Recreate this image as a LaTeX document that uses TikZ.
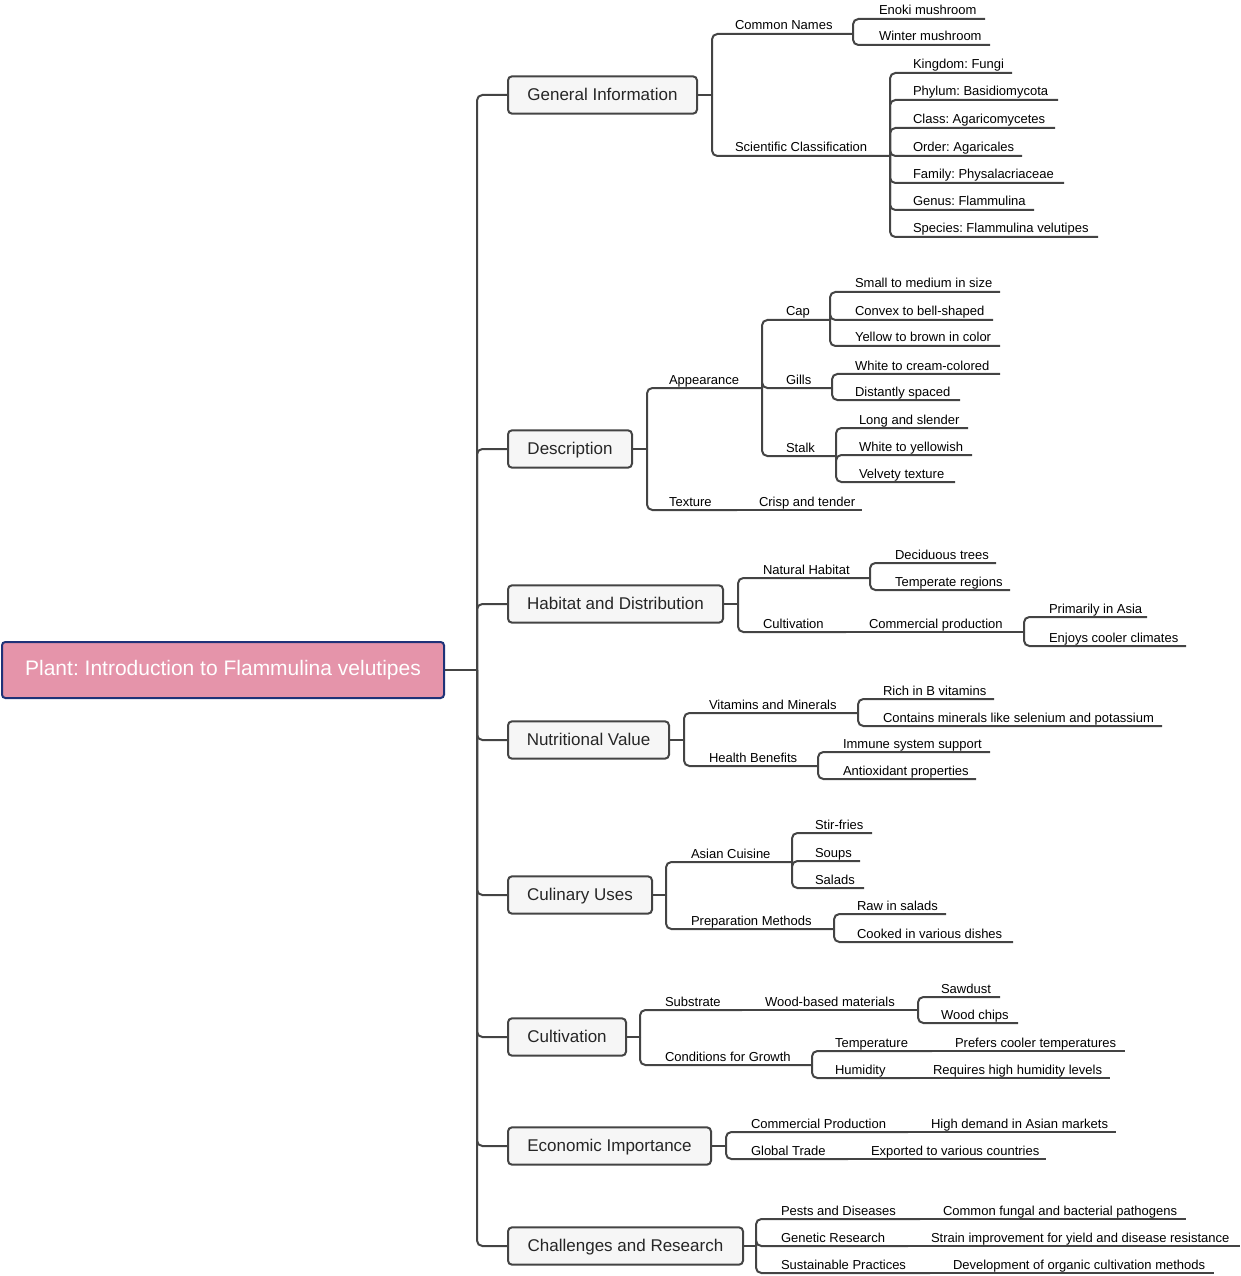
\documentclass[tikz,border=0pt]{standalone}
\usepackage{fontspec}
\setmainfont{Liberation Sans}
\frenchspacing
\definecolor{linkgray}{RGB}{68,68,68}
\definecolor{rootpink}{RGB}{229,148,170}
\definecolor{rootblue}{RGB}{30,50,120}
\definecolor{boxfill}{RGB}{246,246,246}
\tikzset{every picture/.style={line width=1.5pt}}
\tikzset{
  link/.style={draw=linkgray, rounded corners=4pt},
  lbl/.style={anchor=base west, inner sep=0pt, font=\fontsize{9.75}{11}\selectfont},
  topic/.style={draw=linkgray, fill=boxfill, rounded corners=3pt, inner sep=0pt, minimum height=28pt, text height=0.9em, text depth=0.1em, text=black!85, font=\fontsize{12.75}{15}\selectfont},
  rootbox/.style={draw=rootblue, fill=rootpink, rounded corners=2.5pt, inner sep=0pt, minimum height=42pt, text height=0.9em, text depth=0.1em, text=white, font=\fontsize{15.75}{18}\selectfont}
}

\begin{document}
\begin{tikzpicture}[x=0.75pt,y=0.75pt,yscale=-1,xscale=1]
\useasboundingbox (0,0) rectangle (1240,1276);

%Root
\node [rootbox, minimum width=331.5pt] (root) at (223,670) {Plant: Introduction to Flammulina velutipes};
\coordinate (trunk) at (477,670);

%Topics
\node [topic, minimum width=141.75pt] (gi) at (602.5,95) {General Information};
\node [topic, minimum width=93pt] (de) at (570,449) {Description};
\node [topic, minimum width=161.25pt] (hd) at (615.5,604) {Habitat and Distribution};
\node [topic, minimum width=120.75pt] (nv) at (588.5,740) {Nutritional Value};
\node [topic, minimum width=108pt] (cu) at (580,895) {Culinary Uses};
\node [topic, minimum width=88.5pt] (cv) at (567,1037) {Cultivation};
\node [topic, minimum width=152.25pt] (ei) at (609.5,1146) {Economic Importance};
\node [topic, minimum width=176.25pt] (cr) at (625.5,1246) {Challenges and Research};

% Connection
\draw [link] (root.east) -- (trunk);
\foreach \t in {gi,de,hd,nv,cu,cv,ei,cr}
  \draw [link] (trunk) |- (\t.west);

%General Information
\coordinate (gi-b) at (712,95);
\draw [link] (gi.east) -- (gi-b);
\node [lbl] (cn) at (734,30) {Common Names}; \coordinate (cn-e) at (853,34);
\node [lbl] (en) at (878,15) {Enoki mushroom}; \coordinate (en-e) at (985,19);
\node [lbl] (wm) at (878,41) {Winter mushroom}; \coordinate (wm-e) at (990,45);
\node [lbl] (sc) at (734,152) {Scientific Classification}; \coordinate (sc-e) at (890,156);
\node [lbl] (kf) at (912,69) {Kingdom: Fungi}; \coordinate (kf-e) at (1012,73);
\node [lbl] (pb) at (912,96) {Phylum: Basidiomycota}; \coordinate (pb-e) at (1058,100);
\node [lbl] (ca) at (912,124) {Class: Agaricomycetes}; \coordinate (ca-e) at (1055,128);
\node [lbl] (oa) at (912,152) {Order: Agaricales}; \coordinate (oa-e) at (1022,156);
\node [lbl] (fp) at (912,179) {Family: Physalacriaceae}; \coordinate (fp-e) at (1064,183);
\node [lbl] (gf) at (912,206) {Genus: Flammulina}; \coordinate (gf-e) at (1034,210);
\node [lbl] (sf) at (912,233) {Species: Flammulina velutipes}; \coordinate (sf-e) at (1098,237);
% Connection
\draw [link] (gi-b) |- (cn-e); \draw [link] (gi-b) |- (sc-e);
\draw [link] (cn-e) |- (en-e); \draw [link] (cn-e) |- (wm-e);
\foreach \c in {kf,pb,ca,oa,fp,gf,sf}
  \draw [link] (sc-e) |- (\c-e);

%Description
\coordinate (de-b) at (647,449);
\draw [link] (de.east) -- (de-b);
\node [lbl] (ap) at (668,384) {Appearance}; \coordinate (ap-e) at (762,388);
\node [lbl] (cp) at (785,316) {Cap}; \coordinate (cp-e) at (830,320);
\node [lbl] (sm) at (854,288) {Small to medium in size}; \coordinate (sm-e) at (1000,292);
\node [lbl] (cx) at (854,316) {Convex to bell-shaped}; \coordinate (cx-e) at (993,320);
\node [lbl] (yb) at (854,342) {Yellow to brown in color}; \coordinate (yb-e) at (1000,346);
\node [lbl] (gl) at (785,384) {Gills}; \coordinate (gl-e) at (832,388);
\node [lbl] (wc) at (854,370) {White to cream-colored}; \coordinate (wc-e) at (1000,374);
\node [lbl] (ds) at (854,396) {Distantly spaced}; \coordinate (ds-e) at (960,400);
\node [lbl] (st) at (785,452) {Stalk}; \coordinate (st-e) at (836,456);
\node [lbl] (ls) at (858,424) {Long and slender}; \coordinate (ls-e) at (968,428);
\node [lbl] (wy) at (858,451) {White to yellowish}; \coordinate (wy-e) at (972,455);
\node [lbl] (vt) at (858,478) {Velvety texture}; \coordinate (vt-e) at (955,482);
\node [lbl] (tx) at (668,506) {Texture}; \coordinate (tx-e) at (737,510);
\node [lbl] (ct) at (758,506) {Crisp and tender}; \coordinate (ct-e) at (862,510);
% Connection
\draw [link] (de-b) |- (ap-e); \draw [link] (de-b) |- (tx-e);
\draw [link] (ap-e) |- (cp-e); \draw [link] (ap-e) |- (gl-e); \draw [link] (ap-e) |- (st-e);
\draw [link] (cp-e) |- (sm-e); \draw [link] (cp-e) |- (cx-e); \draw [link] (cp-e) |- (yb-e);
\draw [link] (gl-e) |- (wc-e); \draw [link] (gl-e) |- (ds-e);
\draw [link] (st-e) |- (ls-e); \draw [link] (st-e) |- (wy-e); \draw [link] (st-e) |- (vt-e);
\draw [link] (tx-e) -- (ct-e);

%Habitat and Distribution
\coordinate (hd-b) at (738,604);
\draw [link] (hd.east) -- (hd-b);
\node [lbl] (nh) at (762,574) {Natural Habitat}; \coordinate (nh-e) at (870,578);
\node [lbl] (dt) at (894,559) {Deciduous trees}; \coordinate (dt-e) at (996,563);
\node [lbl] (tr) at (894,586) {Temperate regions}; \coordinate (tr-e) at (1010,590);
\node [lbl] (cl) at (762,628) {Cultivation}; \coordinate (cl-e) at (846,632);
\node [lbl] (cpr) at (868,628) {Commercial production}; \coordinate (cpr-e) at (1024,632);
\node [lbl] (pa) at (1048,613) {Primarily in Asia}; \coordinate (pa-e) at (1147,617);
\node [lbl] (ec) at (1048,642) {Enjoys cooler climates}; \coordinate (ec-e) at (1186,646);
% Connection
\draw [link] (hd-b) |- (nh-e); \draw [link] (hd-b) |- (cl-e);
\draw [link] (nh-e) |- (dt-e); \draw [link] (nh-e) |- (tr-e);
\draw [link] (cl-e) -- (cpr-e);
\draw [link] (cpr-e) |- (pa-e); \draw [link] (cpr-e) |- (ec-e);

%Nutritional Value
\coordinate (nv-b) at (684,740);
\draw [link] (nv.east) -- (nv-b);
\node [lbl] (vm) at (708,709) {Vitamins and Minerals}; \coordinate (vm-e) at (858,713);
\node [lbl] (rb) at (882,695) {Rich in B vitamins}; \coordinate (rb-e) at (994,699);
\node [lbl] (cm) at (882,722) {Contains minerals like selenium and potassium}; \coordinate (cm-e) at (1162,726);
\node [lbl] (hb) at (708,762) {Health Benefits}; \coordinate (hb-e) at (818,766);
\node [lbl] (is) at (842,748) {Immune system support}; \coordinate (is-e) at (990,752);
\node [lbl] (ao) at (842,775) {Antioxidant properties}; \coordinate (ao-e) at (976,779);
% Connection
\draw [link] (nv-b) |- (vm-e); \draw [link] (nv-b) |- (hb-e);
\draw [link] (vm-e) |- (rb-e); \draw [link] (vm-e) |- (cm-e);
\draw [link] (hb-e) |- (is-e); \draw [link] (hb-e) |- (ao-e);

%Culinary Uses
\coordinate (cu-b) at (666,895);
\draw [link] (cu.east) -- (cu-b);
\node [lbl] (ac) at (690,858) {Asian Cuisine}; \coordinate (ac-e) at (792,862);
\node [lbl] (sfr) at (814,829) {Stir-fries}; \coordinate (sfr-e) at (872,833);
\node [lbl] (so) at (814,857) {Soups}; \coordinate (so-e) at (860,861);
\node [lbl] (sa) at (814,884) {Salads}; \coordinate (sa-e) at (864,888);
\node [lbl] (pm) at (690,925) {Preparation Methods}; \coordinate (pm-e) at (834,929);
\node [lbl] (rs) at (856,910) {Raw in salads}; \coordinate (rs-e) at (946,914);
\node [lbl] (cd) at (856,938) {Cooked in various dishes}; \coordinate (cd-e) at (1013,942);
% Connection
\draw [link] (cu-b) |- (ac-e); \draw [link] (cu-b) |- (pm-e);
\draw [link] (ac-e) |- (sfr-e); \draw [link] (ac-e) |- (so-e); \draw [link] (ac-e) |- (sa-e);
\draw [link] (pm-e) |- (rs-e); \draw [link] (pm-e) |- (cd-e);

%Cultivation
\coordinate (cv-b) at (640,1037);
\draw [link] (cv.east) -- (cv-b);
\node [lbl] (sub) at (664,1006) {Substrate}; \coordinate (sub-e) at (742,1010);
\node [lbl] (wb) at (764,1006) {Wood-based materials}; \coordinate (wb-e) at (918,1010);
\node [lbl] (sd) at (940,993) {Sawdust}; \coordinate (sd-e) at (1000,997);
\node [lbl] (wch) at (940,1019) {Wood chips}; \coordinate (wch-e) at (1018,1023);
\node [lbl] (cg) at (664,1061) {Conditions for Growth}; \coordinate (cg-e) at (812,1065);
\node [lbl] (tp) at (834,1047) {Temperature}; \coordinate (tp-e) at (932,1051);
\node [lbl] (pc) at (954,1047) {Prefers cooler temperatures}; \coordinate (pc-e) at (1125,1051);
\node [lbl] (hu) at (834,1074) {Humidity}; \coordinate (hu-e) at (910,1078);
\node [lbl] (rh) at (932,1074) {Requires high humidity levels}; \coordinate (rh-e) at (1110,1078);
% Connection
\draw [link] (cv-b) |- (sub-e); \draw [link] (cv-b) |- (cg-e);
\draw [link] (sub-e) -- (wb-e);
\draw [link] (wb-e) |- (sd-e); \draw [link] (wb-e) |- (wch-e);
\draw [link] (cg-e) |- (tp-e); \draw [link] (cg-e) |- (hu-e);
\draw [link] (tp-e) -- (pc-e); \draw [link] (hu-e) -- (rh-e);

%Economic Importance
\coordinate (ei-b) at (726,1146);
\draw [link] (ei.east) -- (ei-b);
\node [lbl] (cpd) at (750,1128) {Commercial Production}; \coordinate (cpd-e) at (908,1132);
\node [lbl] (hdm) at (930,1128) {High demand in Asian markets}; \coordinate (hdm-e) at (1116,1132);
\node [lbl] (gt) at (750,1155) {Global Trade}; \coordinate (gt-e) at (848,1159);
\node [lbl] (ex) at (870,1155) {Exported to various countries}; \coordinate (ex-e) at (1046,1159);
% Connection
\draw [link] (ei-b) |- (cpd-e); \draw [link] (ei-b) |- (gt-e);
\draw [link] (cpd-e) -- (hdm-e); \draw [link] (gt-e) -- (ex-e);

%Challenges and Research
\coordinate (cr-b) at (756,1246);
\draw [link] (cr.east) -- (cr-b);
\node [lbl] (pd) at (780,1215) {Pests and Diseases}; \coordinate (pd-e) at (920,1219);
\node [lbl] (cf) at (942,1215) {Common fungal and bacterial pathogens}; \coordinate (cf-e) at (1186,1219);
\node [lbl] (gr) at (780,1242) {Genetic Research}; \coordinate (gr-e) at (908,1246);
\node [lbl] (si) at (930,1242) {Strain improvement for yield and disease resistance}; \coordinate (si-e) at (1240,1246);
\node [lbl] (sp) at (780,1269) {Sustainable Practices}; \coordinate (sp-e) at (930,1273);
\node [lbl] (dv) at (952,1269) {Development of organic cultivation methods}; \coordinate (dv-e) at (1214,1273);
% Connection
\draw [link] (cr-b) |- (pd-e); \draw [link] (cr-b) |- (gr-e); \draw [link] (cr-b) |- (sp-e);
\draw [link] (pd-e) -- (cf-e); \draw [link] (gr-e) -- (si-e); \draw [link] (sp-e) -- (dv-e);

\end{tikzpicture}
\end{document}
